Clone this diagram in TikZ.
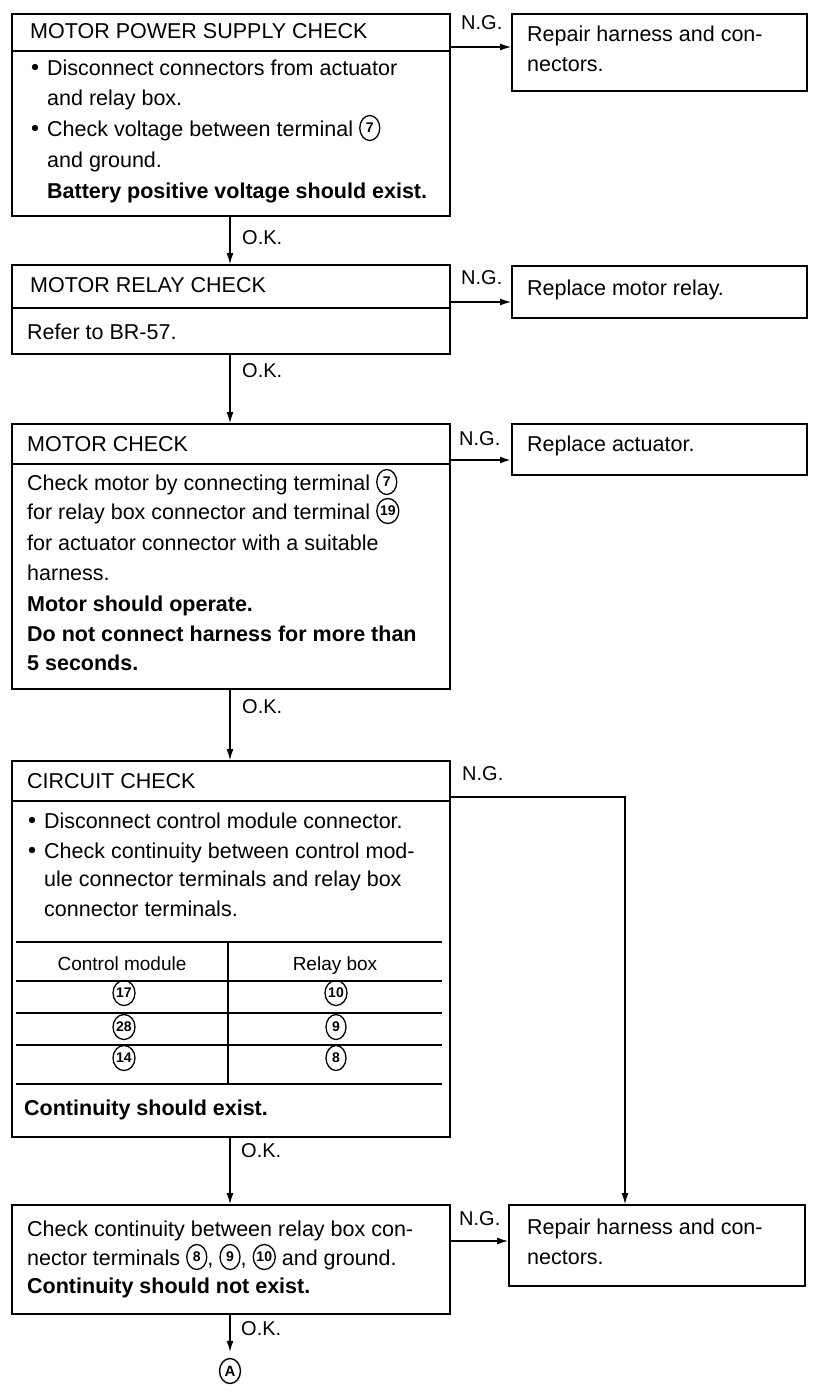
\documentclass[tikz,border=0pt]{standalone}
\usepackage{fontspec}
\setmainfont{Liberation Sans}
\usetikzlibrary{arrows.meta,shapes.geometric}
\newcommand\cn[1]{\tikz[baseline={([yshift=-8pt]cc.center)}]\node[ellipse,draw,line width=1.3pt,inner sep=0pt,minimum width=20pt,minimum height=25pt,font=\fontsize{14}{14}\selectfont\bfseries] (cc) {#1};}
\tikzset{
  box/.style={draw,line width=1.8pt,rectangle,anchor=north west,inner sep=0pt},
  txt/.style={anchor=base west,inner sep=0pt,font=\fontsize{21.5}{26}\selectfont},
  btxt/.style={txt,font=\fontsize{21.5}{26}\selectfont\bfseries},
  ttxt/.style={anchor=base,inner sep=0pt,font=\fontsize{19}{22}\selectfont},
  lbl/.style={anchor=base west,inner sep=0pt,font=\fontsize{20}{24}\selectfont},
  arr/.style={line width=1.2pt,-{Latex[length=11pt,width=7pt]}},
  div/.style={line width=1.8pt},
  tl/.style={line width=1.2pt},
}
\begin{document}
\begin{tikzpicture}[x=1pt,y=-1pt]
\useasboundingbox (0,0) rectangle (816,1392);
% coordinates
\coordinate (xc) at (230,0);
\coordinate (xr) at (625,0);
\coordinate (y1) at (0,47);
\coordinate (y2) at (0,302);
\coordinate (y3) at (0,460);
\coordinate (y4) at (0,797);
\coordinate (y5) at (0,1241);

% ---------- Box 1
\node[box,minimum width=438pt,minimum height=202pt] (b1) at (11,13) {};
\draw[div] (11,51) -- (449,51);
\node[txt] (h1) at (30,38) {MOTOR POWER SUPPLY CHECK};
\fill (35,67) circle (3.2);
\node[txt] (t11) at (47,75) {Disconnect connectors from actuator};
\node[txt] (t12) at (47,105) {and relay box.};
\fill (35,128) circle (3.2);
\node[txt] (t13) at (47,136) {Check voltage between terminal \cn{7}};
\node[txt] (t14) at (47,167) {and ground.};
\node[btxt] (t15) at (47,198) {Battery positive voltage should exist.};

\node[box,minimum width=295pt,minimum height=77pt] (r1) at (511,13) {};
\node[txt] (r1a) at (527,41) {Repair harness and con-};
\node[txt] (r1b) at (527,71) {nectors.};
\node[lbl] (ng1) at (461,29) {N.G.};

% ---------- Box 2
\node[box,minimum width=438pt,minimum height=89pt] (b2) at (11,264) {};
\draw[div] (11,308) -- (449,308);
\node[txt] (h2) at (30,292) {MOTOR RELAY CHECK};
\node[txt] (t21) at (27,339) {Refer to BR-57.};

\node[box,minimum width=295pt,minimum height=52pt] (r2) at (511,265) {};
\node[txt] (r2a) at (527,295) {Replace motor relay.};
\node[lbl] (ng2) at (461,284) {N.G.};

% ---------- Box 3
\node[box,minimum width=438pt,minimum height=265pt] (b3) at (11,423) {};
\draw[div] (11,464) -- (449,464);
\node[txt] (h3) at (27,451) {MOTOR CHECK};
\node[txt] (t31) at (27,490) {Check motor by connecting terminal \cn{7}};
\node[txt] (t32) at (27,519) {for relay box connector and terminal \cn{19}};
\node[txt] (t33) at (27,550) {for actuator connector with a suitable};
\node[txt] (t34) at (27,580) {harness.};
\node[btxt] (t35) at (27,611) {Motor should operate.};
\node[btxt] (t36) at (27,641) {Do not connect harness for more than};
\node[btxt] (t37) at (27,670) {5 seconds.};

\node[box,minimum width=295pt,minimum height=51pt] (r3) at (511,423) {};
\node[txt] (r3a) at (527,451) {Replace actuator.};
\node[lbl] (ng3) at (459,445) {N.G.};

% ---------- Box 4
\node[box,minimum width=438pt,minimum height=376pt] (b4) at (11,760) {};
\draw[div] (11,801) -- (449,801);
\node[txt] (h4) at (27,788) {CIRCUIT CHECK};
\fill (32,820) circle (3.2);
\node[txt] (t41) at (44,828) {Disconnect control module connector.};
\fill (32,850) circle (3.2);
\node[txt] (t42) at (44,858) {Check continuity between control mod-};
\node[txt] (t43) at (44,886) {ule connector terminals and relay box};
\node[txt] (t44) at (44,916) {connector terminals.};
% table
\draw[div] (16,942) -- (442,942);
\draw[tl] (16,981) -- (442,981);
\draw[tl] (16,1013) -- (442,1013);
\draw[line width=2pt] (16,1013) -- (152,1013);
\draw[tl] (16,1045) -- (442,1045);
\draw[div] (16,1084) -- (442,1084);
\draw[tl] (228,942) -- (228,1084);
\node[ttxt] (c0a) at (122,970) {Control module};
\node[ttxt] (c0b) at (335,970) {Relay box};
\node[ttxt] (c1a) at (124,1001) {\cn{17}};
\node[ttxt] (c1b) at (336,1001) {\cn{10}};
\node[ttxt] (c2a) at (124,1035) {\cn{28}};
\node[ttxt] (c2b) at (336,1035) {\cn{9}};
\node[ttxt] (c3a) at (124,1066) {\cn{14}};
\node[ttxt] (c3b) at (336,1066) {\cn{8}};
\node[btxt] (t45) at (24,1115) {Continuity should exist.};
\node[lbl] (ng4) at (462,780) {N.G.};

% ---------- Box 5
\node[box,minimum width=438pt,minimum height=109pt] (b5) at (11,1204) {};
\node[txt] (t51) at (27,1236) {Check continuity between relay box con-};
\node[txt] (t52) at (27,1265) {nector terminals \cn{8}, \cn{9}, \cn{10} and ground.};
\node[btxt] (t53) at (27,1293) {Continuity should not exist.};

\node[box,minimum width=296pt,minimum height=81pt] (r5) at (508,1204) {};
\node[txt] (r5a) at (527,1234) {Repair harness and con-};
\node[txt] (r5b) at (527,1264) {nectors.};
\node[lbl] (ng5) at (459,1225) {N.G.};

% ---------- end marker
\node[ellipse,draw,line width=1.4pt,inner sep=0pt,minimum width=21pt,minimum height=25pt,font=\fontsize{15}{15}\selectfont\bfseries] (A) at (230,1371) {A};

% ---------- connectors
\draw[arr] (b1.east |- y1) -- (r1.west |- y1);
\draw[arr] (b2.east |- y2) -- (r2.west |- y2);
\draw[arr,line width=2pt] (b3.east |- y3) -- (r3.west |- y3);
\draw[arr] (b4.east |- y4) -| (r5.north -| xr);
\draw[arr] (b5.east |- y5) -- (r5.west |- y5);
\draw[arr] (b1.south -| xc) -- (b2.north -| xc);
\draw[arr] (b2.south -| xc) -- (b3.north -| xc);
\draw[arr] (b3.south -| xc) -- (b4.north -| xc);
\draw[arr] (b4.south -| xc) -- (b5.north -| xc);
\draw[arr] (b5.south -| xc) -- ([yshift=6pt]A.north);
\node[lbl] (ok1) at (242,244) {O.K.};
\node[lbl] (ok2) at (242,377) {O.K.};
\node[lbl] (ok3) at (242,713) {O.K.};
\node[lbl] (ok4) at (241,1157) {O.K.};
\node[lbl] (ok5) at (241,1335) {O.K.};
\end{tikzpicture}
\end{document}
